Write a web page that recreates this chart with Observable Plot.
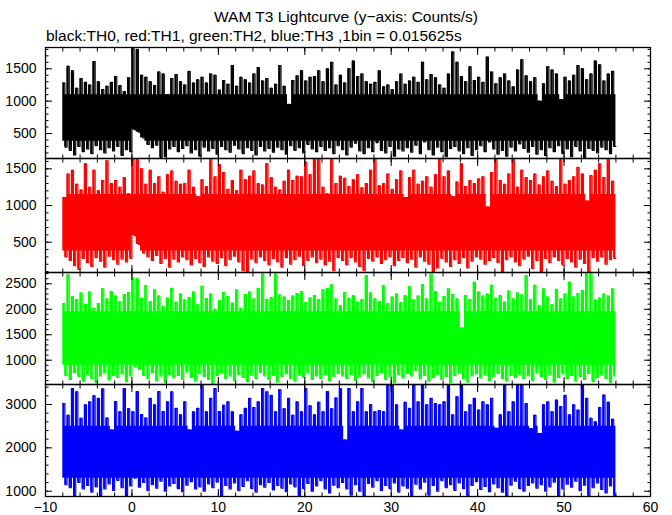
<!DOCTYPE html>
<html><head><meta charset="utf-8">
<script src="https://cdn.jsdelivr.net/npm/d3@7"></script>
<script src="https://cdn.jsdelivr.net/npm/@observablehq/plot@0.6"></script>
<style>
body{margin:0;background:#fff;}
#chart{position:relative;width:672px;height:515px;font-family:"Liberation Sans",Arial,sans-serif;overflow:hidden;}
.t{position:absolute;white-space:nowrap;color:#000;}
.panel{position:absolute;left:0;}
</style></head><body>
<div id="chart">
<div class="t" id="title" style="left:0;width:692px;text-align:center;top:8px;font-size:15.5px;">WAM T3 Lightcurve (y−axis: Counts/s)</div>
<div class="t" id="sub" style="left:46px;top:27px;font-size:15.5px;">black:TH0, red:TH1, green:TH2, blue:TH3 ,1bin = 0.015625s</div>
</div>
<script>
// time grid of the envelope readings (s): highs at -8, -7.5, ...; lows half a step later
const tStart = -8, tStep = 0.5, tEnd = 56;

// TH0 (black) — local maxima / minima (counts/s)
const th0Hi = [1280,1540,1470,1200,1350,1290,1250,1610,1300,1180,1230,1290,1380,1240,1150,1360,
 1850,1800,1400,1370,1300,1240,1450,1420,1100,1350,1410,1300,1250,1460,1280,1330,
 1370,1280,1420,1400,1170,1320,1260,1550,1230,1370,1330,1280,1420,1520,1310,1350,
 1200,1260,1550,1230,950,1320,1390,1470,1310,1370,1380,1470,1300,1500,1600,1250,
 1400,1280,1500,1620,1380,1420,1300,1260,1290,1470,1220,1250,1180,1300,1420,1260,
 1310,1370,1290,1600,1330,1410,1360,1250,1200,1420,1760,1600,1380,1300,1530,1320,
 1370,1290,1680,1450,1270,1360,1420,1310,1220,1480,1640,1390,1300,1360,1000,1270,
 1530,1480,1420,1020,1370,1310,1400,1550,1500,1330,1420,1620,1560,1310,1420,1460];
const th0Lo = [290,240,170,300,220,260,190,310,250,200,280,230,300,160,250,220,
 560,520,430,330,280,320,130,140,260,300,220,270,310,200,250,150,
 290,230,270,180,300,250,210,320,260,190,280,240,170,300,230,270,
 210,290,250,180,310,240,280,200,330,260,220,300,240,280,190,310,
 250,170,290,350,230,190,280,220,360,240,200,300,150,260,230,280,
 210,320,190,370,250,170,290,220,140,270,300,230,190,280,160,250,
 310,220,370,260,180,240,150,290,230,340,270,210,300,180,250,160,
 280,220,310,190,260,140,300,230,130,270,240,200,290,250,190,300];

// TH1 (red)
const th1Hi = [1110,1430,1480,1290,1210,1570,1250,1480,1200,1340,1610,1300,1340,1250,1380,1160,
 1700,1700,1500,1290,1480,1300,1390,1180,1420,1470,1330,1290,1300,1480,1250,1120,
 1350,1260,1680,1390,1560,1450,1220,1340,1200,1480,1350,1400,1470,1300,1280,1570,
 1380,1250,1210,1330,1480,1340,1400,1390,1590,1420,1700,1680,1250,1160,1700,1300,
 1400,1370,1260,1350,1420,1240,1300,1480,1650,1270,1300,1430,1220,1350,1470,1110,
 1380,1480,1290,1330,1390,1250,1420,1700,1390,1470,1120,1320,1570,1260,1340,1300,
 1360,1390,980,1450,1690,1340,1290,1430,1680,1250,1480,1380,1340,1430,1280,1390,
 1470,1330,1260,1690,1290,1340,1390,1520,1430,1060,1410,1480,1570,1380,1690,1330];
const th1Lo = [300,250,180,130,280,220,170,290,240,160,310,260,200,270,230,280,
 590,470,350,300,250,320,210,280,160,270,230,300,260,190,280,220,
 170,300,240,210,290,180,260,310,230,110,100,270,220,300,250,190,
 280,230,160,290,200,260,310,180,250,300,220,270,190,240,110,290,
 250,190,290,230,170,110,280,240,300,210,260,300,180,250,290,220,
 270,160,300,240,200,100,150,280,230,170,260,210,290,150,240,300,
 270,200,250,290,220,100,260,300,230,180,270,310,140,250,100,280,
 220,300,250,190,280,230,160,270,210,100,290,240,300,200,260,280];

// TH2 (green)
const th2Hi = [2110,2680,2250,2190,2320,2100,2340,2020,2110,2400,2200,2350,2260,2150,2290,2330,
 2620,2600,2210,2460,2150,2380,2260,2050,2220,2410,2140,2300,2180,2230,2340,2090,
 2450,2210,2300,2000,2170,2330,2250,2120,2380,2020,2290,2340,2200,2410,2700,2190,
 2230,2700,2280,2240,2170,2260,2310,2350,2130,2220,2270,2190,2380,2410,2480,2200,
 2070,2330,2210,2270,2140,2190,2660,2320,2200,2150,2460,2110,2240,2300,2130,2270,
 2440,2180,2260,2480,2200,2720,2350,2140,2250,2400,2290,2200,1630,2270,2190,2530,
 2340,2260,2300,2470,2210,2270,2140,2360,2200,2320,2280,2660,2190,2470,2070,2400,
 2240,2090,2390,2200,2300,2530,2240,2310,2370,2710,2700,2180,2220,2300,2260,2400];
const th2Lo = [700,620,760,680,590,720,640,560,690,750,610,700,660,730,580,690,
 870,820,700,640,750,600,690,560,720,650,700,620,770,660,590,730,
 680,620,540,700,750,640,690,600,720,660,580,710,640,760,690,620,
 700,570,680,730,640,590,710,660,750,620,690,640,720,600,680,740,
 690,640,720,600,670,730,650,580,700,760,620,680,560,710,650,740,
 690,800,630,700,590,660,720,620,680,560,700,750,640,570,690,730,
 650,710,600,670,740,640,590,700,660,720,630,690,600,750,680,620,
 710,570,660,730,640,700,590,680,620,740,580,660,710,640,560,690];

// TH3 (blue)
const th3Hi = [3020,2750,3370,3290,2680,2990,3060,3200,3140,3360,2690,2410,3070,2830,3370,2900,
 2830,3300,2770,2690,3140,2990,3300,2840,3060,3290,2910,2760,3060,2410,2830,2910,
 3440,2830,3140,3370,2840,2980,3060,2830,2380,2760,2910,3140,2930,3060,3370,3290,
 3210,2830,3340,2900,3140,2750,3060,2830,3370,2970,2760,3050,2830,3300,2900,3150,
 3370,2180,3370,2830,3060,3370,2830,3000,2830,2860,2830,3440,3450,2990,2410,3050,
 2910,3450,3060,3450,2990,3140,3020,2990,3060,3450,2760,3180,3450,2830,2990,3140,
 2870,3060,2990,3140,2450,2760,3440,2830,3060,3450,3450,3020,2440,2750,2330,2990,
 3060,2830,3100,2950,3210,2760,2990,2870,3450,3140,2680,2600,2930,3220,3050,2660];
const th3Lo = [1150,1080,900,1200,1050,1130,980,1100,900,1050,1170,1020,1250,1080,900,1120,
 1300,1090,1200,1010,1150,1070,1230,1000,1120,1180,1060,990,1140,1220,1050,1100,
 1000,1170,1080,1210,900,1130,1050,1190,1010,1110,1240,1060,980,1150,1090,1200,
 1030,1130,1070,990,1170,1100,900,1060,1180,1000,1120,1240,1050,960,1140,1080,
 1200,1050,910,1150,1000,900,1180,1090,1240,1020,1130,1060,1190,980,1120,1070,
 900,1160,1050,1210,910,1130,1000,1240,1080,1150,1020,1190,1060,900,1130,1220,
 1040,1110,990,1170,1080,980,900,1140,1230,1060,1000,1130,1190,1070,1150,1000,
 1100,1210,900,1050,1160,1090,1230,1010,1140,900,1080,1190,1040,960,1120,900];

// solid core of each band (counts/s)
const coreLow  = [380, 380, 900, 1300];
const coreHigh = [1100, 1150, 1950, 2500];

// axis ticks
const xMajor = [-10, 0, 10, 20, 30, 40, 50, 60];
const xMinor = d3.range(-10, 61, 2);
const yMajor = [[500, 1000, 1500], [500, 1000, 1500], [1000, 1500, 2000, 2500], [1000, 2000, 3000]];
const yMinorStep = [100, 100, 100, 200];

// layout
const yDomains = [[114, 1829], [87, 1641], [523, 2722], [878, 3461]];
const panelTop = [47, 158, 272, 384];
const panelH = [111, 114, 112, 112];
const colors = ["#000000", "#ff0000", "#00ff00", "#0000ff"];
const his = [th0Hi, th1Hi, th2Hi, th3Hi];
const los = [th0Lo, th1Lo, th2Lo, th3Lo];

// alternating high / low half-bins, with the filled extent of each half-bin
function halfBins(hi, lo, cl, ch) {
  const out = [];
  for (let i = 0; i < hi.length; i++) {
    const t = tStart + i * tStep;
    out.push({t, v: hi[i], a: Math.max(cl, lo[i]), b: hi[i]});
    out.push({t: t + tStep / 2, v: lo[i], a: lo[i], b: Math.min(ch, hi[i])});
  }
  const n = lo.length - 1;
  out.push({t: tEnd, v: lo[n], a: lo[n], b: Math.min(ch, hi[n])});
  return out;
}

const chart = document.getElementById("chart");
const blank = () => "";
const plain = d => String(d).replace("-", "\u2212");
for (let k = 0; k < 4; k++) {
  const last = k === 3;
  const dom = yDomains[k];
  const minor = d3.range(0, 4000, yMinorStep[k]).filter(v => v > dom[0] && v < dom[1]);
  const bins = halfBins(his[k], los[k], coreLow[k], coreHigh[k]);
  const marks = [
    Plot.areaY(bins, {x: "t", y1: "a", y2: "b", fill: colors[k], curve: "step-after", clip: true}),
    Plot.line(bins, {x: "t", y: "v", stroke: colors[k], strokeWidth: 1.1, curve: "step-after", clip: true}),
    Plot.axisY({ticks: yMajor[k], anchor: "left", tickSize: 0, tickPadding: 9, tickFormat: plain, label: null, fontSize: 14}),
    Plot.axisY({ticks: yMajor[k], anchor: "left", tickSize: -7, tickFormat: blank, label: null}),
    Plot.axisY({ticks: minor, anchor: "left", tickSize: -3.5, tickFormat: blank, label: null}),
    Plot.axisY({ticks: yMajor[k], anchor: "right", tickSize: -7, tickFormat: blank, label: null}),
    Plot.axisY({ticks: minor, anchor: "right", tickSize: -3.5, tickFormat: blank, label: null}),
    Plot.axisX({ticks: xMajor, anchor: "top", tickSize: -7, tickFormat: blank, label: null}),
    Plot.axisX({ticks: xMinor, anchor: "top", tickSize: -3.5, tickFormat: blank, label: null}),
    Plot.axisX({ticks: xMajor, anchor: "bottom", tickSize: -7, tickFormat: blank, label: null}),
    Plot.axisX({ticks: xMinor, anchor: "bottom", tickSize: -3.5, tickFormat: blank, label: null}),
    Plot.frame({stroke: "#000", strokeWidth: 1.3})
  ];
  if (last) marks.push(Plot.axisX({ticks: xMajor, anchor: "bottom", tickSize: 0, tickPadding: 6, tickFormat: plain, label: null, fontSize: 14}));
  const p = Plot.plot({
    width: 672,
    height: panelH[k] + 2 + (last ? 20 : 0),
    marginLeft: 45, marginRight: 22, marginTop: 1, marginBottom: 1 + (last ? 20 : 0),
    x: {domain: [-10, 60]},
    y: {domain: dom},
    style: {fontFamily: "Liberation Sans, Arial, sans-serif", fontSize: "14px", color: "#000", background: "transparent", overflow: "visible"},
    marks
  });
  p.classList.add("panel");
  p.style.top = (panelTop[k] - 1) + "px";
  chart.appendChild(p);
}
</script>
</body></html>
